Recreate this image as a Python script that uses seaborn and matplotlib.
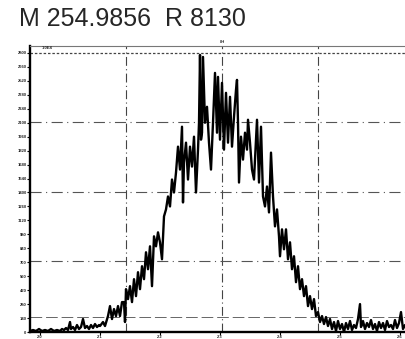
import numpy as np
import pandas as pd
import seaborn as sns
import matplotlib.pyplot as plt
from matplotlib.ticker import MultipleLocator

# scan / intensity
scan = [-10, -7, -4, -1, 2, 5, 8, 11, 14, 17, 20, 22, 24, 26, 28, 30, 31, 33, 35, 37,
        39, 41, 43, 45, 47, 49, 51, 53, 55, 57, 59,
        60, 63, 65, 68, 70, 72, 74, 76, 78, 80, 82, 84, 85, 86, 88, 90, 92, 94, 96,
        98, 100, 102, 104, 106, 108, 110, 112, 114, 116, 118, 120, 122, 124, 126, 128,
        130, 132, 134, 136, 138, 140, 142, 143, 144, 146, 148, 150, 152, 154, 156, 158,
        159, 160, 161, 162, 163, 165, 167, 169, 171, 173, 175, 177, 178, 180, 182, 184,
        186, 188, 190, 192, 194, 196, 197, 198, 199, 201, 203, 205, 207, 208, 210, 212,
        214, 216, 217, 219, 221, 223, 225, 227, 229, 231, 233, 235, 237, 239, 240, 242,
        244, 246, 248, 250, 252, 254, 256, 258, 260, 262, 264, 266, 268, 270, 272, 274,
        276, 278, 280, 282, 284, 286, 288, 290, 292, 294, 296, 298,
        300, 302, 304, 306, 308, 310, 312, 314, 316, 318, 320, 321, 323, 325, 327, 329,
        331, 333, 335, 337, 339, 341, 343, 345, 347, 349, 351, 353, 355, 357, 359, 361,
        363, 365]
intensity = [1, 2, 1, 3, 1, 2, 1, 3, 1, 2, 1, 3, 2, 4, 2, 10, 3, 5, 2, 7,
             3, 5, 13, 4, 6, 3, 7, 4, 8, 5, 7,
             6, 10, 6, 16, 26, 13, 23, 16, 26, 16, 30, 30, 10, 43, 33, 46, 30, 53, 36,
             60, 43, 66, 53, 80, 63, 86, 46, 96, 86, 100, 90, 73, 116, 123, 136,
             126, 153, 140, 160, 186, 163, 206, 130, 170, 190, 153, 186, 166, 196, 140, 183,
             210, 278, 193, 200, 276, 210, 226, 190, 163, 210, 260, 200, 256, 193, 250, 183,
             240, 190, 236, 186, 216, 243, 253, 210, 150, 196, 173, 200, 183, 213, 190, 163,
             153, 193, 213, 150, 206, 136, 126, 146, 120, 180, 136, 106, 123, 96, 76, 103,
             83, 103, 73, 90, 63, 76, 50, 66, 43, 53, 36, 46, 26, 36, 23, 33,
             16, 20, 10, 16, 8, 15, 6, 13, 3, 10, 1, 11,
             3, 8, 0, 9, 3, 11, 2, 7, 4, 13, 28, 5, 11, 3, 9, 5,
             12, 3, 8, 1, 10, 4, 9, 2, 11, 5, 7, 3, 12, 4, 9, 20,
             3, 7]

x_ticks = [0, 60, 120, 180, 240, 300, 360]
x_labels = ["2.0", "2.1", "2.2", "2.3", "2.4", "2.5", "2.6"]

df = pd.DataFrame({"scan": scan, "intensity": intensity})

sns.set_style("white")
plt.rcParams["font.family"] = ["Liberation Sans", "DejaVu Sans"]

fig = plt.figure(figsize=(4.05, 3.39), dpi=100)
ax = fig.add_axes([30 / 405, 7 / 339, 375 / 405, 286 / 339])

# dash-dot grid of the scanned trace
for gx in [86, 182, 278]:
    ax.axvline(gx, color="#444444", lw=0.8, ls=(0, (8, 3, 1, 3)), zorder=1)
for gy in [71, 140, 211]:
    ax.axhline(gy, color="#555555", lw=0.8, ls=(0, (10, 4, 1, 4)), zorder=1)
ax.axhline(15, color="#666666", lw=0.7, ls=(0, (12, 4)), zorder=1)
ax.axhline(280, color="#444444", lw=0.9, ls=(0, (2, 1.5)), zorder=1)

sns.lineplot(data=df, x="scan", y="intensity", sort=False, color="black",
             lw=1.7, ax=ax, zorder=3)

ax.set_xlim(-10, 365)
ax.set_ylim(0, 287)
ax.set_xlabel("")
ax.set_ylabel("")
ax.set_yticks(np.arange(0, 281, 14))
ax.set_yticklabels(["%d" % (v * 10) for v in np.arange(0, 281, 14)], fontsize=3,
                   fontweight="bold")
ax.set_xticks(x_ticks)
ax.set_xticklabels(x_labels, fontsize=3, fontweight="bold")
ax.tick_params(axis="both", length=2, width=0.8, pad=0.5, color="black", direction="out")
ax.tick_params(axis="y", left=True)
ax.tick_params(axis="x", bottom=True)

for side in ["left", "bottom"]:
    ax.spines[side].set_linewidth(1.7)
    ax.spines[side].set_color("black")
ax.spines["top"].set_linewidth(0.8)
ax.spines["top"].set_color("#777777")
ax.spines["right"].set_visible(False)

ax.text(2, 283, "1.0E4", fontsize=3, fontweight="bold", va="bottom")
ax.text(182, 289, "8H", fontsize=3, fontweight="bold", ha="center", va="bottom")

fig.text(19 / 405, 1 - 19 / 339, "M 254.9856  R 8130", fontsize=18, va="center",
         ha="left")

fig.savefig("out.png", dpi=100)
